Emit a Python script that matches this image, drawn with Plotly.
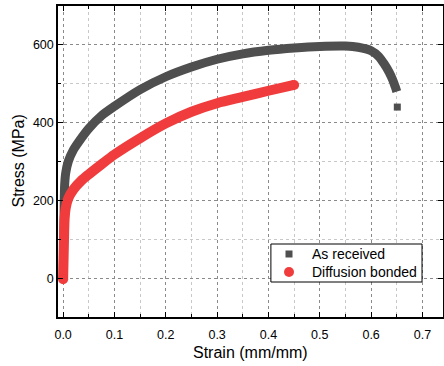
import plotly.graph_objects as go

# As received
ar_strain = [0.0, 0.001, 0.002, 0.003, 0.005, 0.01, 0.02, 0.03, 0.05, 0.075, 0.1,
             0.15, 0.2, 0.25, 0.3, 0.35, 0.4, 0.45, 0.5, 0.55, 0.575, 0.6,
             0.615, 0.625, 0.635, 0.642, 0.647, 0.65]
ar_stress = [0, 90, 180, 240, 270, 300, 330, 350, 385, 418, 442,
             485, 518, 543, 563, 577, 586, 592, 596, 597, 594, 585,
             570, 552, 530, 510, 492, 480]
ar_final_strain = [0.651]
ar_final_stress = [440]

# Diffusion bonded
db_strain = [0.0, 0.001, 0.002, 0.003, 0.005, 0.01, 0.02, 0.035, 0.05, 0.075, 0.1,
             0.15, 0.2, 0.25, 0.3, 0.35, 0.4, 0.45]
db_stress = [-3, 60, 120, 155, 180, 205, 228, 250, 267, 293, 318,
             360, 398, 428, 450, 466, 482, 497]

series_names = ["As received", "Diffusion bonded"]
x_title = "Strain (mm/mm)"
y_title = "Stress (MPa)"

DARK = "#4f4f4f"
RED = "#f03c3c"

fig = go.Figure()

fig.add_trace(go.Scatter(x=ar_strain, y=ar_stress, mode="lines",
                         line=dict(color=DARK, width=9, shape="spline", smoothing=0.8),
                         showlegend=False, hoverinfo="skip"))
fig.add_trace(go.Scatter(x=ar_final_strain, y=ar_final_stress, mode="markers",
                         marker=dict(symbol="square", size=7, color=DARK),
                         name=series_names[0], showlegend=False))
fig.add_trace(go.Scatter(x=db_strain, y=db_stress, mode="lines",
                         line=dict(color=RED, width=10, shape="spline", smoothing=0.8),
                         showlegend=False, hoverinfo="skip"))
fig.add_trace(go.Scatter(x=[db_strain[0], db_strain[-1]], y=[db_stress[0], db_stress[-1]],
                         mode="markers",
                         marker=dict(symbol="circle", size=10, color=RED),
                         name=series_names[1], showlegend=False))

font = "Liberation Sans, Arial, sans-serif"

# Legend box drawn as decoration (paper coordinates)
leg_x0, leg_x1, leg_y0, leg_y1 = 0.553, 0.9455, 0.1125, 0.2347
key_x = 0.6
text_x = 0.6545
row_y = [0.2026, 0.1447]

shapes = [
    dict(type="rect", xref="paper", yref="paper", x0=leg_x0, x1=leg_x1, y0=leg_y0, y1=leg_y1,
         line=dict(color="black", width=1), fillcolor="white", layer="above"),
    dict(type="rect", xref="paper", yref="paper", xsizemode="pixel", ysizemode="pixel",
         xanchor=key_x, yanchor=row_y[0], x0=-3.5, x1=3.5, y0=-3.5, y1=3.5,
         line=dict(width=0), fillcolor=DARK, layer="above"),
    dict(type="circle", xref="paper", yref="paper", xsizemode="pixel", ysizemode="pixel",
         xanchor=key_x, yanchor=row_y[1], x0=-5, x1=5, y0=-5, y1=5,
         line=dict(width=0), fillcolor=RED, layer="above"),
]

annotations = [
    dict(text=x_title, xref="paper", yref="paper", x=0.5, y=0,
         xanchor="center", yanchor="middle", yshift=-35, showarrow=False,
         font=dict(size=16)),
    dict(text=y_title, xref="paper", yref="paper", x=0, y=0.5,
         xanchor="center", yanchor="middle", xshift=-40, textangle=-90,
         showarrow=False, font=dict(size=16)),
]
for name, yy in zip(series_names, row_y):
    annotations.append(dict(text=name, xref="paper", yref="paper", x=text_x, y=yy,
                            xanchor="left", yanchor="middle", showarrow=False,
                            font=dict(size=14)))

fig.update_layout(
    width=444, height=366,
    margin=dict(l=58, r=1, t=6, b=49),
    paper_bgcolor="white", plot_bgcolor="white",
    font=dict(family=font, size=12.5, color="black"),
    showlegend=False,
    shapes=shapes,
    annotations=annotations,
)

fig.update_xaxes(
    range=[-0.01, 0.74], dtick=0.1, tick0=0, tickformat=".1f", automargin=False,
    ticklabelstandoff=5,
    showline=True, linecolor="black", linewidth=1.5, mirror="ticks",
    ticks="inside", ticklen=5, tickcolor="black", tickwidth=1.2,
    showgrid=True, gridcolor="#8a8a8a", griddash="dot", gridwidth=1,
    zeroline=False,
    minor=dict(dtick=0.05, tick0=0, ticks="inside", ticklen=3, tickcolor="black",
               showgrid=True, gridcolor="#c8c8c8", griddash="dot", gridwidth=1),
)
fig.update_yaxes(
    range=[-100, 700], dtick=200, tick0=0, automargin=False,
    showline=True, linecolor="black", linewidth=1.5, mirror="ticks",
    ticks="inside", ticklen=5, tickcolor="black", tickwidth=1.2,
    showgrid=True, gridcolor="#8a8a8a", griddash="dot", gridwidth=1,
    zeroline=False,
    minor=dict(dtick=100, tick0=0, ticks="inside", ticklen=3, tickcolor="black",
               showgrid=True, gridcolor="#c8c8c8", griddash="dot", gridwidth=1),
)

fig.write_html("out.html", config={"displayModeBar": False},
               post_script="document.body.style.margin='0px';document.body.style.overflow='hidden';")
